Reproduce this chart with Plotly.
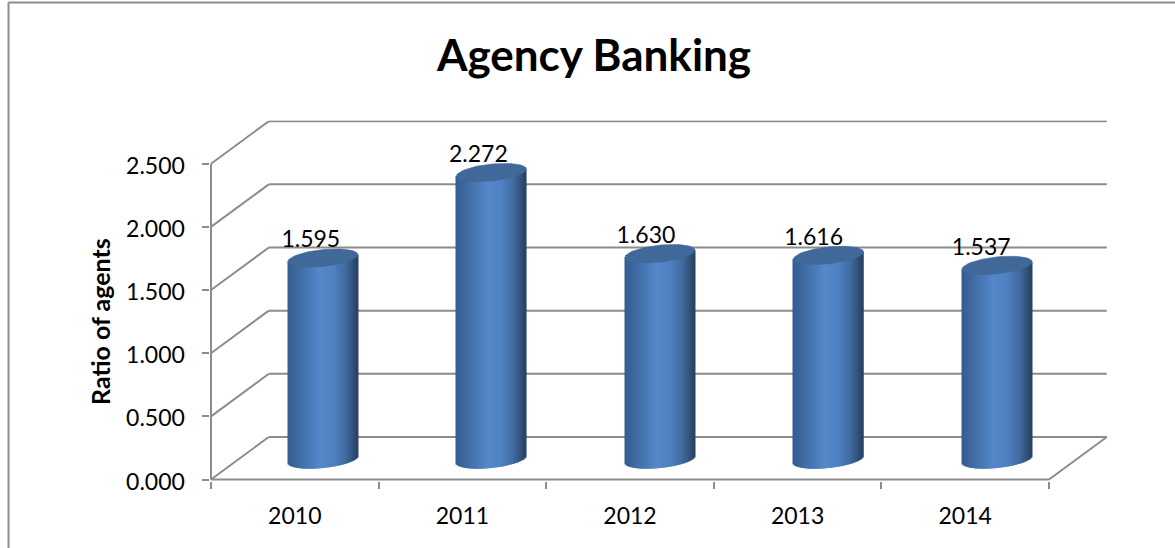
import numpy as np
import plotly.graph_objects as go

years = ["2010", "2011", "2012", "2013", "2014"]
ratios = [1.595, 2.272, 1.630, 1.616, 1.537]
y_ticks = [0.0, 0.5, 1.0, 1.5, 2.0, 2.5]

W, H = 1175, 548
PX_X = 167.6        # pixels per category
PX_Y = 126.3        # pixels per unit of ratio
LEFT, BOTTOM = 211, 479.5
DEPTH_X, DEPTH_Y = 0.345, 0.337   # offset of the back wall in axis units
PAD = 1.5           # spare pixels round the plot area so edge lines are not clipped
GREY = "#8c8c8c"
FONT = "Lato"

half_w = 35 / PX_X
tilt = 3.5 / PX_Y
flat = 8.5 / PX_Y
cx_off = 28 / PX_X
cy_off = 20 / PX_Y
cyl_pitch = 1.006   # cylinders sit mid-depth, so they spread a little wider than the front axis
strips = 70

# horizontal shading across a cylinder: position in [-1, 1] -> rgb
shade_pos = [-1.0, -0.75, -0.35, -0.1, 0.3, 0.65, 0.88, 1.0]
shade_r = [52, 62, 74, 86, 80, 66, 50, 40]
shade_g = [92, 104, 124, 135, 130, 108, 80, 66]
shade_b = [146, 158, 185, 201, 195, 160, 120, 100]

fig = go.Figure()
shapes = []


def seg(x0, y0, x1, y1):
    shapes.append(dict(type="line", xref="x", yref="y", x0=x0, y0=y0, x1=x1, y1=y1,
                       layer="below", line=dict(color=GREY, width=2)))


# side wall diagonals and back wall gridlines
x_l, x_r = -0.5, len(years) - 0.5
for v in y_ticks:
    seg(x_l, v, x_l + DEPTH_X, v + DEPTH_Y)
    seg(x_l + DEPTH_X, v + DEPTH_Y, x_r + DEPTH_X, v + DEPTH_Y)
# front axis lines and floor edge
seg(x_l, 0, x_l, y_ticks[-1])
seg(x_l, 0, x_r, 0)
seg(x_r, 0, x_r + DEPTH_X, DEPTH_Y)

u = (np.arange(strips) + 0.5) / (strips / 2) - 1
colors = [
    "rgb(%d,%d,%d)" % (np.interp(p, shade_pos, shade_r),
                       np.interp(p, shade_pos, shade_g),
                       np.interp(p, shade_pos, shade_b))
    for p in u
]
arc = flat * np.sqrt(1 - u ** 2)

for i, (yr, val) in enumerate(zip(years, ratios)):
    cx = i * cyl_pitch + cx_off
    slope = tilt * u
    base = cy_off + slope - arc
    top = cy_off + val + slope
    fig.add_trace(go.Bar(
        x=cx + u * half_w, y=top - base, base=base,
        width=1.3 / PX_X, marker=dict(color=colors, line=dict(width=0)),
        hoverinfo="skip", showlegend=False,
    ))
    # top face of the cylinder
    t = np.linspace(0, 2 * np.pi, 90)
    fig.add_trace(go.Scatter(
        x=cx + half_w * np.cos(t),
        y=cy_off + val + tilt * np.cos(t) + flat * np.sin(t),
        mode="lines", fill="toself", fillcolor="#40699a",
        line=dict(color="#40699a", width=0.5),
        hoverinfo="skip", showlegend=False,
    ))

# value labels
fig.add_trace(go.Scatter(
    x=[i + 16 / PX_X for i in range(len(years))],
    y=[v + cy_off + 16.5 / PX_Y for v in ratios],
    text=["%.3f" % v for v in ratios],
    mode="text", textposition="middle center",
    textfont=dict(family=FONT, size=23, color="#000000"),
    hoverinfo="skip", showlegend=False,
))

# chart frame: only the top and left edges fall inside the view
shapes.append(dict(type="line", xref="paper", yref="paper",
                   x0=8.5 / W, x1=1, y0=1 - 2.5 / H, y1=1 - 2.5 / H,
                   line=dict(color=GREY, width=2)))
shapes.append(dict(type="line", xref="paper", yref="paper",
                   x0=8.5 / W, x1=8.5 / W, y0=0, y1=1 - 2.5 / H,
                   line=dict(color=GREY, width=2)))

fig.update_layout(
    width=W, height=H,
    margin=dict(l=0, r=0, t=0, b=0),
    paper_bgcolor="white", plot_bgcolor="white",
    showlegend=False, barmode="overlay",
    shapes=shapes,
    title=dict(text="<b>Agency Banking</b>", x=594 / W, y=1 - 56 / H,
               xanchor="center", yanchor="middle",
               font=dict(family=FONT, size=44, color="#000000")),
    xaxis=dict(
        automargin=False,
        domain=[(LEFT - PAD) / W, (1108 + PAD) / W],
        range=[x_l - PAD / PX_X, x_l + (1108 - LEFT + PAD) / PX_X],
        tickmode="array", tickvals=list(range(len(years))), ticktext=years,
        ticks="", showgrid=False, zeroline=False, showline=False,
        ticklabelstandoff=19,
        tickfont=dict(family=FONT, size=23, color="#000000"),
        minor=dict(ticks="outside", tick0=-0.5, dtick=1, ticklen=7,
                   tickcolor=GREY, tickwidth=2, showgrid=False),
    ),
    yaxis=dict(
        automargin=False,
        domain=[(H - BOTTOM - PAD) / H, (H - 122 + PAD) / H],
        range=[-PAD / PX_Y, (BOTTOM - 122 + PAD) / PX_Y],
        tickmode="array", tickvals=y_ticks, ticktext=["%.3f" % v for v in y_ticks],
        ticks="outside", ticklen=7, tickcolor=GREY, tickwidth=2,
        showgrid=False, zeroline=False, showline=False,
        ticklabelstandoff=12, ticklabelshift=2,
        tickfont=dict(family=FONT, size=23, color="#000000"),
    ),
    annotations=[dict(text="<b>Ratio of agents</b>", textangle=-90,
                      xref="paper", yref="paper", x=100 / W, y=1 - 322 / H,
                      xanchor="center", yanchor="middle", showarrow=False,
                      font=dict(family=FONT, size=25, color="#000000"))],
)

fig.write_html("out.html", config={"displayModeBar": False})
